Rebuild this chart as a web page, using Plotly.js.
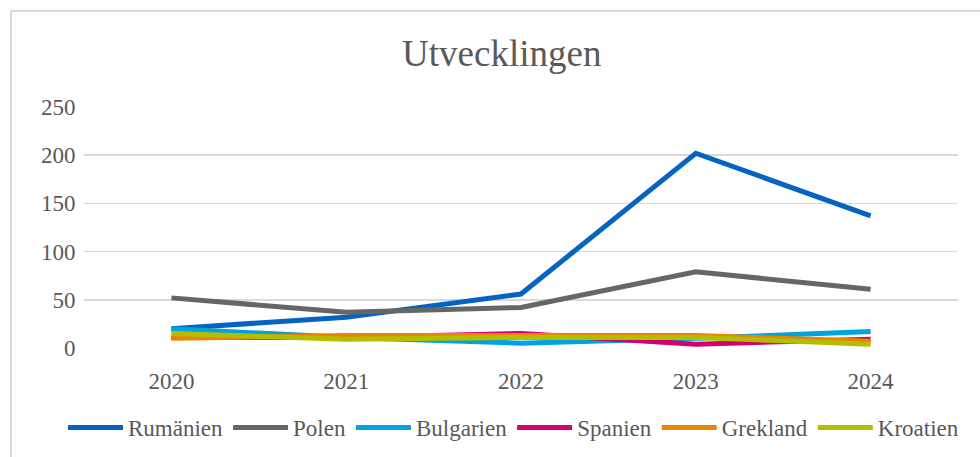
<!DOCTYPE html>
<html>
<head>
<meta charset="utf-8">
<script src="https://cdn.plot.ly/plotly-3.0.1.min.js"></script>
<style>
html,body{margin:0;padding:0;background:#fff;overflow:hidden;}
#wrap{position:relative;width:980px;height:457px;}
#frame{position:absolute;left:10px;top:10px;width:1000px;height:500px;border-left:2px solid #d9d9d9;border-top:2px solid #d9d9d9;pointer-events:none;}
#chart{position:absolute;left:0;top:0;width:980px;height:457px;}
</style>
</head>
<body>
<div id="wrap"><div id="chart"></div><div id="frame"></div></div>
<script>
const years = ["2020", "2021", "2022", "2023", "2024"];
const rumanien = [20, 32, 56, 202, 137];
const polen = [52, 37, 42, 79, 61];
const bulgarien = [20, 11, 5, 10, 17];
const spanien = [11, 11, 15, 4, 9];
const grekland = [10, 13, 13, 13, 7];
const kroatien = [15, 9, 11, 11, 4];

const seriesNames = ["Rumänien", "Polen", "Bulgarien", "Spanien", "Grekland", "Kroatien"];
const seriesData = [rumanien, polen, bulgarien, spanien, grekland, kroatien];
const colors = ["#0563C1", "#666666", "#00A2E1", "#D4006F", "#EA8500", "#B4BE00"];

const traces = seriesNames.map((n, i) => ({
  x: years, y: seriesData[i], name: n, type: "scatter", mode: "lines",
  line: {color: colors[i], width: 5}
}));

const fam = "Liberation Serif, Times New Roman, Times, serif";
const layout = {
  width: 980, height: 457,
  font: {family: fam, color: "#595959"},
  margin: {l: 84, r: 22, t: 107, b: 109, autoexpand: false},
  paper_bgcolor: "#fff", plot_bgcolor: "#fff",
  title: {text: "Utvecklingen", font: {family: fam, color: "#595959", size: 37}, x: 0.512, xanchor: "center", y: 0.885, yanchor: "middle"},
  xaxis: {type: "category", range: [-0.5, 4.5], showgrid: false, zeroline: false, showline: false,
          tickfont: {family: fam, color: "#595959", size: 23}, ticks: "outside", ticklen: 12, tickcolor: "rgba(0,0,0,0)"},
  yaxis: {range: [0, 250], dtick: 50, tick0: 0, showgrid: true, gridcolor: "#d9d9d9", gridwidth: 1.5,
          zeroline: false, showline: false, tickfont: {family: fam, color: "#595959", size: 23}, ticks: "outside", ticklen: 3, tickcolor: "rgba(0,0,0,0)"},
  showlegend: true,
  legend: {orientation: "h", x: -0.024, xanchor: "left", y: -0.33, yanchor: "middle",
           font: {family: fam, color: "#595959", size: 23}, itemwidth: 55, traceorder: "normal", tracegroupgap: 0}
};
Plotly.newPlot("chart", traces, layout, {displayModeBar: false, staticPlot: true});
</script>
</body>
</html>
